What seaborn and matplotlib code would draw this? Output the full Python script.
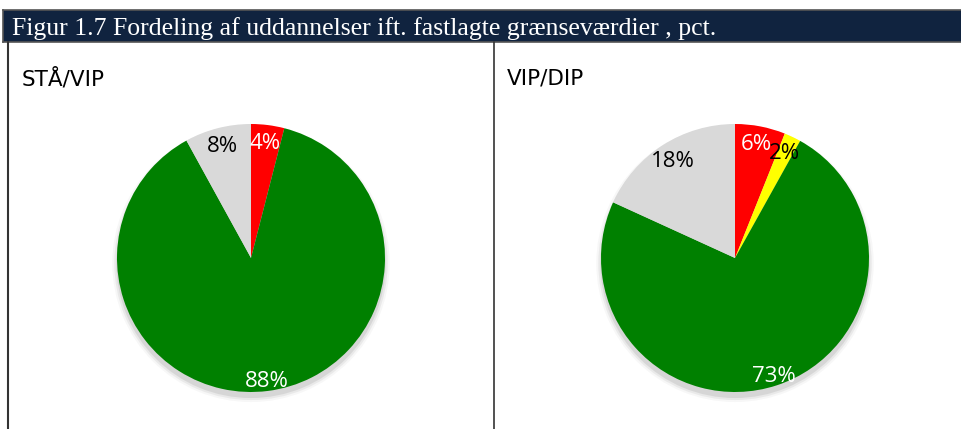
import numpy as np
import matplotlib.pyplot as plt
import seaborn as sns

# data
panel_titles = ["STÅ/VIP", "VIP/DIP"]
left_values = [4, 88, 8]
left_colors = ["#ff0000", "#008000", "#d9d9d9"]
left_text = ["white", "white", "black"]
right_values = [6, 2, 73, 18]
right_colors = ["#ff0000", "#ffff00", "#008000", "#d9d9d9"]
right_text = ["white", "black", "white", "black"]
fig_title = "Figur 1.7 Fordeling af uddannelser ift. fastlagte grænseværdier , pct."

sns.set_theme(style="white")
plt.rcParams['font.family'] = ['Liberation Sans Narrow', 'DejaVu Sans']

W, H = 962, 429
fig = plt.figure(figsize=(W / 100, H / 100), dpi=100)
fig.patch.set_facecolor("white")

# title bar
bar = fig.add_axes([3 / W, 1 - 42 / H, 1 - 3 / W, 32 / H])
bar.set_facecolor("#10233f")
bar.set_xticks([]); bar.set_yticks([])
for s in bar.spines.values():
    s.set_color("#555555")
    s.set_linewidth(1.2)
bar.text(9 / (W - 3), 0.42, fig_title, color="white", va="center", ha="left",
         fontsize=18.5, family=["Liberation Serif", "DejaVu Serif"],
         transform=bar.transAxes)

# panel borders
fig.add_artist(plt.Line2D([8 / W, 8 / W], [0, 1 - 42 / H], color="#333333", lw=1.5))
fig.add_artist(plt.Line2D([494 / W, 494 / W], [0, 1 - 42 / H], color="#333333", lw=1.2))

fig.text(22 / W, 1 - 79 / H, panel_titles[0], fontsize=15.5, va="center", ha="left",
         color="black")
fig.text(507 / W, 1 - 79 / H, panel_titles[1], fontsize=15.5, va="center", ha="left",
         color="black")


def draw_pie(cx, values, colors, text_colors):
    r = 134
    ax = fig.add_axes([(cx - r) / W, (H - 258 - r) / H, 2 * r / W, 2 * r / H])
    ax.set_aspect("equal")
    # soft shadow
    for k, a in zip([1.035, 1.02, 1.005], [0.06, 0.1, 0.16]):
        ax.pie([1], colors=["#777777"], radius=k, center=(0.0, -0.04),
               wedgeprops=dict(alpha=a, linewidth=0), frame=True)
    wedges, _ = ax.pie(values, colors=colors, startangle=90, counterclock=False,
                       wedgeprops=dict(linewidth=0), frame=True)
    total = sum(values)
    for w, v, tc in zip(wedges, values, text_colors):
        mid = np.deg2rad((w.theta1 + w.theta2) / 2)
        d = 0.93 if v / total > 0.5 else 0.86
        ax.text(d * np.cos(mid), d * np.sin(mid), f"{v}%", color=tc,
                ha="center", va="center", fontsize=16,
                family=["Open Sans", "DejaVu Sans"])
    ax.set_xlim(-1, 1); ax.set_ylim(-1, 1)
    ax.axis("off")


draw_pie(251, left_values, left_colors, left_text)
draw_pie(735, right_values, right_colors, right_text)

fig.savefig("out.png", dpi=100)
